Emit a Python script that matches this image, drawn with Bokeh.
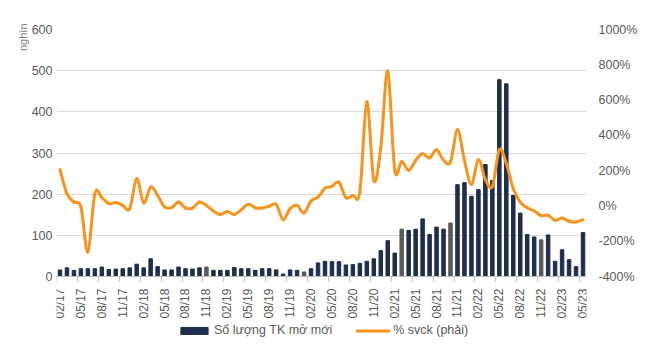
import math
from bokeh.plotting import figure
from bokeh.models import (Range1d, LinearAxis, FixedTicker, Legend, LegendItem,
                          Title, ColumnDataSource, PrintfTickFormatter)
from bokeh.embed import file_html
from bokeh.resources import INLINE

# Monthly data 02/17 .. 05/23
new_accounts = [16, 21, 15, 19, 19, 19, 23, 17, 18, 19, 21, 30, 21, 43, 24, 16,
                16, 23, 19, 18, 21, 23, 15, 15, 15, 22, 19, 19, 15, 19, 19, 16,
                6, 16, 15, 11, 19, 33, 37, 36, 36, 28, 29, 32, 37, 43, 63, 87,
                57, 115, 112, 115, 140, 102, 120, 115, 130, 223, 228, 195, 211, 272,
                233, 478, 468, 197, 154, 102, 96, 89, 101, 37, 65, 41, 24, 107]
yoy_pct = [206, 70, 22, -6, -261, 70, 47, 13, 19, 3, -15, 155, 17, 107, 60, -6,
           -10, 22, -12, -12, 22, 3, -29, -48, -31, -48, -21, 9, -10, -12, -2, 9,
           -78, -15, 3, -40, 28, 50, 100, 111, 135, 47, 60, 79, 589, 145, 330, 764,
           205, 252, 202, 258, 296, 272, 319, 260, 249, 432, 258, 122, 262, 150,
           111, 319, 240, 98, 22, -10, -29, -55, -53, -82, -68, -87, -91, -78]
tick_labels = ["02/17", "05/17", "08/17", "11/17", "02/18", "05/18", "08/18", "11/18",
               "02/19", "05/19", "08/19", "11/19", "02/20", "05/20", "08/20", "11/20",
               "02/21", "05/21", "08/21", "11/21", "02/22", "05/22", "08/22", "11/22",
               "02/23", "05/23"]
gray_bars = [21, 35, 49, 56, 69]

n = len(new_accounts)
xs = list(range(n))
bar_colors = ["#595959" if i in gray_bars else "#1f2d4e" for i in xs]

# The frame extends below the zero line so the legend can sit inside it;
# axis scales keep 0..600 (left) and -400%..1000% (right) at the reference positions.
LEFT_MIN, LEFT_MAX = -187, 600
RIGHT_MIN, RIGHT_MAX = -836.4, 1000

p = figure(frame_width=530, frame_height=324, output_backend="svg", toolbar_location=None,
           x_range=Range1d(-0.5, n - 0.5), y_range=Range1d(LEFT_MIN, LEFT_MAX),
           x_axis_location=None,
           min_border_left=56, min_border_right=59, min_border_top=29,
           min_border_bottom=0)
p.extra_y_ranges = {"pct": Range1d(RIGHT_MIN, RIGHT_MAX)}
p.outline_line_color = None
p.xgrid.visible = False
p.ygrid.grid_line_color = "#d9d9d9"
p.ygrid.grid_line_width = 1

FONT = "Liberation Sans"
LABEL_COLOR = "#595959"

# left axis
ya = p.yaxis[0]
ya.ticker = FixedTicker(ticks=list(range(0, 601, 100)))
ya.axis_line_color = None
ya.major_tick_line_color = None
ya.minor_tick_line_color = None
ya.major_tick_out = 0
ya.major_label_standoff = 4
ya.major_label_text_font = FONT
ya.major_label_text_font_size = "12.5px"
ya.major_label_text_color = LABEL_COLOR

# unit title on the left, at the top end
unit = Title(text="nghìn", align="right", offset=-6, text_font=FONT,
             text_font_size="11px", text_font_style="normal", text_color="#7f7f7f",
             standoff=0)
p.add_layout(unit, "left")

# right axis
ra = LinearAxis(y_range_name="pct", ticker=FixedTicker(ticks=list(range(-400, 1001, 200))),
                formatter=PrintfTickFormatter(format="%d%%"))
ra.axis_line_color = None
ra.major_tick_line_color = None
ra.minor_tick_line_color = None
ra.major_tick_out = 0
ra.major_label_standoff = 12
ra.major_label_text_font = FONT
ra.major_label_text_font_size = "12.5px"
ra.major_label_text_color = LABEL_COLOR
p.add_layout(ra, "right")

# x axis fixed at the zero line
major = [3 * k for k in range(len(tick_labels))]
xa = LinearAxis(fixed_location=0,
                ticker=FixedTicker(ticks=major, minor_ticks=[t - 0.5 for t in major]))
xa.major_label_overrides = {t: lbl for t, lbl in zip(major, tick_labels)}
xa.major_tick_line_color = None
xa.major_tick_out = 0
xa.major_tick_in = 0
xa.minor_tick_line_color = "#bfbfbf"
xa.minor_tick_out = 5
xa.minor_tick_in = 0
xa.axis_line_color = "#bfbfbf"
xa.major_label_orientation = math.pi / 2
xa.major_label_standoff = 7
xa.major_label_text_font = FONT
xa.major_label_text_font_size = "12px"
xa.major_label_text_color = LABEL_COLOR
p.add_layout(xa, "below")

# bars
src = ColumnDataSource(dict(x=xs, top=new_accounts, color=bar_colors))
bars = p.vbar(x="x", top="top", bottom=0, width=0.5, color="color", source=src)

# smoothed line (Catmull-Rom style Bezier segments, like Excel's smoothed line)
def pt(i):
    i = max(0, min(n - 1, i))
    return xs[i], yoy_pct[i]

x0, y0, x1, y1, cx0, cy0, cx1, cy1 = [], [], [], [], [], [], [], []
for i in range(n - 1):
    pa, pb, pc, pd = pt(i - 1), pt(i), pt(i + 1), pt(i + 2)
    x0.append(pb[0]); y0.append(pb[1])
    x1.append(pc[0]); y1.append(pc[1])
    cx0.append(pb[0] + (pc[0] - pa[0]) / 6); cy0.append(pb[1] + (pc[1] - pa[1]) / 6)
    cx1.append(pc[0] - (pd[0] - pb[0]) / 6); cy1.append(pc[1] - (pd[1] - pb[1]) / 6)
bsrc = ColumnDataSource(dict(x0=x0, y0=y0, x1=x1, y1=y1, cx0=cx0, cy0=cy0, cx1=cx1, cy1=cy1))
curve = p.bezier(x0="x0", y0="y0", x1="x1", y1="y1", cx0="cx0", cy0="cy0",
                 cx1="cx1", cy1="cy1", source=bsrc, y_range_name="pct",
                 line_color="#f7941d", line_width=3, line_cap="round")

legend = Legend(items=[LegendItem(label="Số lượng TK mở mới", renderers=[bars]),
                       LegendItem(label="% svck (phải)", renderers=[curve])],
                orientation="horizontal", location=(121, 16))
legend.border_line_color = None
legend.background_fill_alpha = 0
legend.glyph_width = 34
legend.glyph_height = 9
legend.label_standoff = 3
legend.label_height = 14
legend.spacing = 24
legend.padding = 0
legend.margin = 0
legend.label_text_font = FONT
legend.label_text_font_size = "12.5px"
legend.label_text_color = LABEL_COLOR
p.add_layout(legend)

open("out.html", "w").write(file_html(p, INLINE))
